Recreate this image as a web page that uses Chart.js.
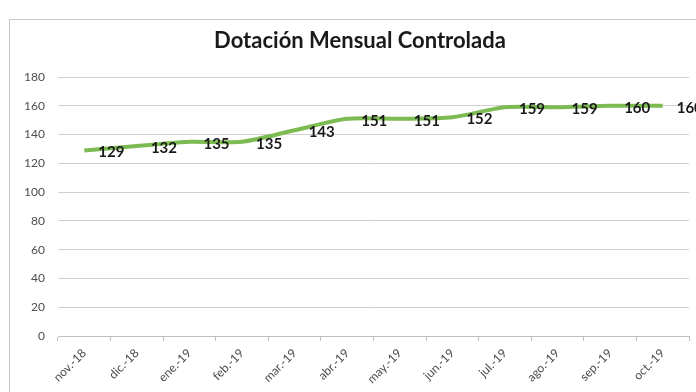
<!DOCTYPE html>
<html>
<head>
<meta charset="utf-8">
<script src="https://cdn.jsdelivr.net/npm/chart.js@4/dist/chart.umd.min.js"></script>
<style>
  html, body { margin: 0; padding: 0; background: #fff; }
  #wrap { position: relative; width: 696px; height: 392px; overflow: hidden; }
  #frame { position: absolute; left: 9px; top: 19px; width: 800px; height: 500px; border: 1px solid #c8c8c8; box-sizing: border-box; }
  canvas { position: absolute; left: 0; top: 0; }
</style>
</head>
<body>
<div id="wrap">
  <div id="frame"></div>
  <canvas id="c" width="696" height="392"></canvas>
</div>
<script>
// Monthly headcount, Nov 2018 – Oct 2019
const months = ['nov.-18', 'dic.-18', 'ene.-19', 'feb.-19', 'mar.-19', 'abr.-19',
                'may.-19', 'jun.-19', 'jul.-19', 'ago.-19', 'sep.-19', 'oct.-19'];
const dotacion = [129, 132, 135, 135, 143, 151, 151, 152, 159, 159, 160, 160];
const yTicks = [0, 20, 40, 60, 80, 100, 120, 140, 160, 180];
const chartTitle = 'Dotación Mensual Controlada';

// Title drawn above the plot
const titlePlugin = {
  id: 'fixedTitle',
  afterDraw(chart) {
    const ctx = chart.ctx;
    ctx.save();
    ctx.font = 'bold 22px Lato, "Open Sans", sans-serif';
    ctx.fillStyle = '#1a1a1a';
    ctx.textAlign = 'center';
    ctx.textBaseline = 'alphabetic';
    ctx.fillText(chartTitle, 360, 48);
    ctx.restore();
  }
};

// Value labels placed to the right of each point
const valueLabels = {
  id: 'valueLabels',
  afterDatasetsDraw(chart) {
    const ctx = chart.ctx;
    const meta = chart.getDatasetMeta(0);
    const data = chart.data.datasets[0].data;
    ctx.save();
    ctx.font = 'bold 15px Lato, "Open Sans", sans-serif';
    ctx.fillStyle = '#1a1a1a';
    ctx.textAlign = 'left';
    ctx.textBaseline = 'middle';
    meta.data.forEach((pt, i) => {
      ctx.fillText(String(data[i]), pt.x + 14, pt.y + 2);
    });
    ctx.restore();
  }
};

new Chart(document.getElementById('c'), {
  type: 'line',
  data: {
    labels: months,
    datasets: [{
      data: dotacion,
      borderColor: '#7cbb52',
      borderWidth: 4,
      pointRadius: 0,
      tension: 0.25,
      fill: false
    }]
  },
  options: {
    responsive: false,
    animation: false,
    devicePixelRatio: 1,
    layout: { padding: { left: 0, right: 7, top: 77, bottom: 0 } },
    plugins: {
      legend: { display: false },
      title: { display: false },
      tooltip: { enabled: false }
    },
    scales: {
      x: {
        offset: true,
        grid: {
          offset: true,
          drawOnChartArea: false,
          drawTicks: true,
          tickLength: 5,
          color: '#bfbfbf'
        },
        border: { display: true, color: '#bfbfbf', width: 1 },
        ticks: {
          maxRotation: 45,
          minRotation: 45,
          autoSkip: false,
          padding: 5,
          color: '#4d4d4d',
          font: { family: 'Lato, "Open Sans", sans-serif', size: 12 }
        },
        afterFit(scale) { scale.height = 56; }
      },
      y: {
        min: 0,
        max: 180,
        afterBuildTicks(scale) { scale.ticks = yTicks.map(v => ({ value: v })); },
        grid: { color: '#d0d0d0', lineWidth: 1, drawTicks: false },
        border: { display: false },
        ticks: {
          padding: 13,
          color: '#4d4d4d',
          font: { family: 'Lato, "Open Sans", sans-serif', size: 12 }
        },
        afterFit(scale) { scale.width = 58; }
      }
    }
  },
  plugins: [titlePlugin, valueLabels]
});
</script>
</body>
</html>
